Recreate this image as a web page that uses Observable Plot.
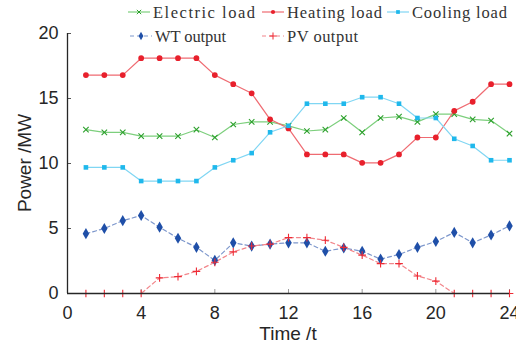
<!DOCTYPE html>
<html><head><meta charset="utf-8">
<script src="https://cdn.jsdelivr.net/npm/d3@7"></script>
<script src="https://cdn.jsdelivr.net/npm/@observablehq/plot@0.6"></script>
<style>body{margin:0;background:#fff}#wrap{position:relative;width:516px;height:347px;overflow:hidden}#leg{position:absolute;left:0;top:0;pointer-events:none}</style>
</head><body><div id="wrap"></div>
<script>
const hours = [1,2,3,4,5,6,7,8,9,10,11,12,13,14,15,16,17,18,19,20,21,22,23,24];
const electric = [12.6,12.4,12.4,12.1,12.1,12.1,12.6,12.0,13.0,13.2,13.2,12.9,12.5,12.6,13.5,12.4,13.5,13.6,13.2,13.8,13.8,13.4,13.3,12.3];
const heating = [16.8,16.8,16.8,18.1,18.1,18.1,18.1,16.8,16.1,15.4,13.4,12.7,10.7,10.7,10.7,10.05,10.05,10.7,12.0,12.0,14.05,14.75,16.1,16.1];
const cooling = [9.7,9.7,9.7,8.65,8.65,8.65,8.65,9.7,10.25,10.8,12.4,12.9,14.6,14.6,14.6,15.1,15.1,14.6,13.5,13.5,11.9,11.35,10.25,10.25];
const wt = [4.6,5.0,5.6,6.0,5.1,4.25,3.55,2.55,3.9,3.65,3.8,3.9,3.9,3.25,3.5,3.25,2.65,3.0,3.55,4.0,4.7,3.9,4.5,5.2];
const pv = [0,0,0,0,1.2,1.3,1.7,2.4,3.2,3.65,3.8,4.3,4.3,4.1,3.55,2.95,2.3,2.3,1.35,0.95,0,0,0,0];
const xTicks = [0,4,8,12,16,20,24];
const yTicks = [0,5,10,15,20];
const seriesNames = ["Electric load","Heating load","Cooling load","WT output","PV output"];

const series = [
  {name: seriesNames[0], values: electric, color:"#2ca02c", line:"#7dcf7d", symbol:"times", fill:false, dash:null},
  {name: seriesNames[1], values: heating, color:"#e8202c", line:"#ef6b72", symbol:"circle", fill:true, dash:null},
  {name: seriesNames[2], values: cooling, color:"#1fb8ec", line:"#80d6f3", symbol:"square", fill:true, dash:null},
  {name: seriesNames[3], values: wt, color:"#1f4fa8", line:"#7d97cc", symbol:"diamond", fill:true, dash:"4,3"},
  {name: seriesNames[4], values: pv, color:"#ee2a34", line:"#f2868b", symbol:"plus", fill:false, dash:"4,3"}
];

const marks = [];
for (const s of series) {
  const data = hours.map((h,i)=>({h, v:s.values[i]}));
  marks.push(Plot.line(data, {x:"h", y:"v", stroke:s.line, strokeWidth:1.2, strokeDasharray:s.dash}));
}
for (const s of series) {
  const data = hours.map((h,i)=>({h, v:s.values[i]}));
  const r = s.symbol==="diamond" ? 3.4 : s.symbol==="square" ? 2.6 : s.symbol==="circle" ? 2.9 : 2.6;
  marks.push(Plot.dot(data, s.fill
    ? {x:"h", y:"v", symbol:()=>s.symbol, r, fill:s.color, stroke:"none"}
    : {x:"h", y:"v", symbol:()=>s.symbol, r, stroke:s.color, strokeWidth:1.1, fill:"none"}));
}

const chart = Plot.plot({
  width:516, height:347,
  marginLeft:67, marginRight:7, marginTop:33, marginBottom:54,
  style:{fontFamily:"'Liberation Sans', Arial, sans-serif", fontSize:"18px", color:"#262626", background:"white"},
  x:{domain:[0,24]},
  y:{domain:[0,20]},
  marks:[
    Plot.axisX({ticks:xTicks, tickSize:-4, text:null, stroke:"#999", label:null}),
    Plot.axisX({ticks:xTicks, tickSize:0, tickPadding:13, label:null, fontSize:18}),
    Plot.axisY({ticks:yTicks, tickSize:-4, text:null, stroke:"#555", label:null}),
    Plot.axisY({ticks:yTicks, tickSize:0, tickPadding:9, label:null, fontSize:18}),
    ...marks,
    Plot.ruleX([0], {stroke:"#262626", strokeWidth:1.3}),
    Plot.ruleY([0], {stroke:"#262626", strokeWidth:1.3})
  ]
});
const wrap = document.getElementById("wrap");
wrap.appendChild(chart);

const svg = d3.select(chart);
const xs = chart.scale("x"), ys = chart.scale("y");
const xMid = (xs.apply(0)+xs.apply(24))/2;
const yMid = (ys.apply(0)+ys.apply(20))/2;
svg.append("text").attr("x", xMid).attr("y", 340).attr("text-anchor","middle")
  .attr("font-family","'Liberation Sans', Arial, sans-serif").attr("font-size",19).attr("fill","#262626").text("Time /t");
svg.append("text").attr("transform",`translate(31,${yMid}) rotate(-90)`).attr("text-anchor","middle")
  .attr("font-family","'Liberation Sans', Arial, sans-serif").attr("font-size",19).attr("fill","#262626").text("Power /MW");

// legend overlay
const leg = d3.select(wrap).append("svg").attr("id","leg").attr("width",516).attr("height",50);
const legPos = [
  {x:128, y:12, tw:102},
  {x:262, y:12, tw:95},
  {x:387, y:12, tw:95},
  {x:130, y:36, tw:71},
  {x:262, y:36, tw:71}
];
const symMap = {times:d3.symbolTimes, circle:d3.symbolCircle, square:d3.symbolSquare, diamond:d3.symbolDiamond, plus:d3.symbolPlus};
series.forEach((s,i)=>{
  const p = legPos[i];
  const g = leg.append("g");
  g.append("line").attr("x1",p.x).attr("x2",p.x+22).attr("y1",p.y).attr("y2",p.y)
    .attr("stroke",s.line).attr("stroke-width",1.2).attr("stroke-dasharray",s.dash);
  const size = s.symbol==="diamond"?20:s.symbol==="plus"?18:14;
  const path = d3.symbol(symMap[s.symbol], size)();
  g.append("path").attr("d",path).attr("transform",`translate(${p.x+11},${p.y})`)
    .attr("fill", s.fill?s.color:"none").attr("stroke", s.fill?"none":s.color).attr("stroke-width",1);
  g.append("text").attr("x",p.x+25).attr("y",p.y+5.5).attr("font-family","'Liberation Serif','DejaVu Serif',serif")
    .attr("font-size",16.5).attr("fill","#333").attr("textLength",p.tw).attr("lengthAdjust","spacing").text(s.name);
});
</script></body></html>
